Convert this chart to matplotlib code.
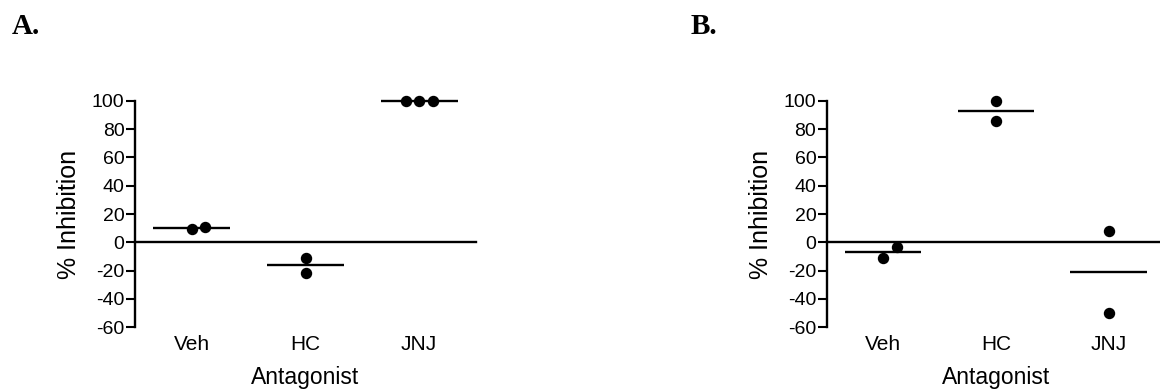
import numpy as np
import matplotlib
matplotlib.use('Agg')
import matplotlib.pyplot as plt

plt.rcParams['font.family'] = ['Liberation Sans', 'DejaVu Sans']
plt.rcParams['axes.unicode_minus'] = False

groups = ['Veh', 'HC', 'JNJ']

# % inhibition per animal, panel A and panel B
inhib_a = [[9.2, 11.0], [-11.0, -21.5], [100.0, 100.0, 100.0]]
inhib_b = [[-11.0, -3.0], [100.0, 85.5], [7.8, -49.6]]

yticks = [-60, -40, -20, 0, 20, 40, 60, 80, 100]

DOT_STEP = 0.12      # horizontal spread for points that would overlap
OVERLAP = 10.0       # values closer than this get spread out
HALF_BAR = 0.34      # half-width of the mean line


def spread(vals):
    # put near-identical values side by side, like a column scatter
    vals = np.sort(np.asarray(vals, dtype=float))
    offs = np.zeros(len(vals))
    clusters = [[0]]
    for i in range(1, len(vals)):
        if vals[i] - vals[clusters[-1][-1]] < OVERLAP:
            clusters[-1].append(i)
        else:
            clusters.append([i])
    for c in clusters:
        k = len(c)
        if k > 1:
            for j, idx in enumerate(c):
                offs[idx] = (j - (k - 1) // 2) * DOT_STEP
    return vals, offs


def draw_panel(ax, data):
    for i, vals in enumerate(data):
        v, off = spread(vals)
        ax.plot(i + off, v, 'o', color='black', ms=7.2, clip_on=False, zorder=3)
        m = np.mean(vals)
        ax.plot([i - HALF_BAR, i + HALF_BAR], [m, m], color='black', lw=1.7,
                solid_capstyle='butt', clip_on=False)
    ax.axhline(0, color='black', lw=1.7, clip_on=False)

    ax.set_xlim(-0.5, 2.5)
    ax.set_ylim(-60, 100)
    ax.set_yticks(yticks)
    ax.set_xticks(range(len(groups)))
    ax.set_xticklabels(groups, fontsize=15)
    ax.tick_params(axis='x', length=0, pad=5.5)
    ax.tick_params(axis='y', direction='out', length=6.5, width=1.5,
                   labelsize=14, pad=1)
    for s in ['top', 'right', 'bottom']:
        ax.spines[s].set_visible(False)
    ax.spines['left'].set_linewidth(1.7)
    ax.set_ylabel('% Inhibition', fontsize=18, labelpad=8)
    ax.set_xlabel('Antagonist', fontsize=16.5, labelpad=8.5)


fig = plt.figure(figsize=(11.6, 3.92), dpi=100)
ax_a = fig.add_axes([135 / 1160, 1 - 327.3 / 392, 341 / 1160, 226.6 / 392])
ax_b = fig.add_axes([826.7 / 1160, 1 - 327.3 / 392, 338.4 / 1160, 226.6 / 392])

draw_panel(ax_a, inhib_a)
draw_panel(ax_b, inhib_b)

fig.text(12 / 1160, 1 - 33.5 / 392, 'A.', family='Liberation Serif',
         weight='bold', fontsize=21, ha='left', va='baseline')
fig.text(691 / 1160, 1 - 33.5 / 392, 'B.', family='Liberation Serif',
         weight='bold', fontsize=21, ha='left', va='baseline')

fig.savefig('out.png', dpi=100)
